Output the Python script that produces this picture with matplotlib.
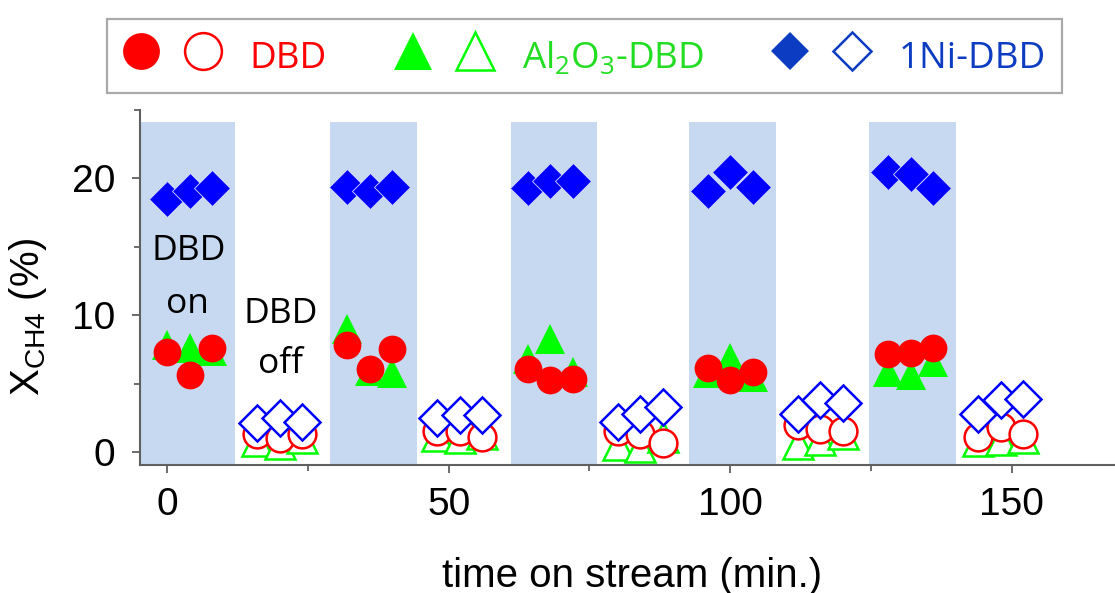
import matplotlib
matplotlib.use("Agg")
import matplotlib.pyplot as plt
from matplotlib.lines import Line2D
from matplotlib.legend_handler import HandlerTuple
from matplotlib.ticker import MultipleLocator

# sampling times (min), plasma on / plasma off
time_on = [0, 4, 8, 32, 36, 40, 64, 68, 72, 96, 100, 104, 128, 132, 136]
time_off = [16, 20, 24, 48, 52, 56, 80, 84, 88, 112, 116, 120, 144, 148, 152]

# CH4 conversion (%)
dbd_on = [7.3, 5.6, 7.6, 7.8, 6.1, 7.5, 6.1, 5.25, 5.3, 6.15, 5.25, 5.85, 7.2, 7.25, 7.6]
dbd_off = [1.3, 1.0, 1.3, 1.5, 1.5, 1.1, 1.5, 1.35, 0.65, 2.0, 1.7, 1.5, 1.1, 1.85, 1.35]
al_on = [7.8, 7.6, 7.4, 9.0, 5.9, 5.8, 6.8, 8.25, 5.85, 5.75, 6.9, 5.5, 5.85, 5.6, 6.6]
al_off = [0.8, 0.6, 1.0, 1.2, 1.0, 1.3, 0.5, 0.4, 1.1, 0.6, 0.9, 1.3, 0.8, 0.9, 1.0]
ni_on = [18.5, 19.05, 19.3, 19.35, 19.05, 19.4, 19.3, 19.8, 19.8, 19.05, 20.45, 19.35, 20.5, 20.3, 19.3]
ni_off = [2.1, 2.5, 2.2, 2.5, 2.7, 2.7, 2.2, 2.8, 3.3, 2.8, 3.8, 3.6, 2.8, 3.8, 3.9]

# periods with the discharge switched on (min)
on_windows = [(-5, 12.1), (28.9, 44.4), (61.1, 76.3), (92.7, 108.1), (124.6, 140.1)]
shade_top = 24.1

labels = ["DBD", r"Al$_\mathregular{2}$O$_\mathregular{3}$-DBD", "1Ni-DBD"]

RED = "#ff0000"
GREEN = "#00ff00"
BLUE = "#0000ff"
LEG_BLUE = "#0b3cc1"
SHADE = "#c6d9f1"
AXIS = "#606060"

plt.rcParams["font.family"] = ["Liberation Sans", "DejaVu Sans"]
plt.rcParams["mathtext.default"] = "regular"

fig = plt.figure(figsize=(11.15, 5.93), dpi=100)
ax = fig.add_axes([140 / 1115, 1 - 465 / 593, 975 / 1115, 355 / 593])
ax.set_xlim(-4.8, 168.3)
ax.set_ylim(-0.95, 25)

y0, y1 = ax.get_ylim()
for a, b in on_windows:
    ax.axvspan(a, b, ymin=0, ymax=(shade_top - y0) / (y1 - y0),
               color=SHADE, lw=0, zorder=0)

# open symbols: discharge off
ax.plot(time_off, al_off, ls="none", marker="^", ms=21, mfc="white",
        mec=GREEN, mew=1.8, zorder=2)
ax.plot(time_off, dbd_off, ls="none", marker="o", ms=20, mfc="white",
        mec=RED, mew=1.8, zorder=3)
ax.plot(time_off, ni_off, ls="none", marker="D", ms=18.5, mfc="white",
        mec=BLUE, mew=1.8, zorder=4)

# filled symbols: discharge on
ax.plot(time_on, al_on, ls="none", marker="^", ms=21, mfc=GREEN,
        mec=GREEN, mew=0, zorder=2)
ax.plot(time_on, dbd_on, ls="none", marker="o", ms=20, mfc=RED,
        mec=RED, mew=0, zorder=3)
ax.plot(time_on, ni_on, ls="none", marker="D", ms=18.5, mfc=BLUE,
        mec="#d8dcff", mew=0.6, zorder=4)

txt = dict(family=["Open Sans", "DejaVu Sans"], fontsize=25.5, ha="center",
           va="baseline", color="black", zorder=5)
ax.text(3.8, 14.0, "DBD", **txt)
ax.text(3.6, 10.15, "on", **txt)
ax.text(20.1, 9.4, "DBD", **txt)
ax.text(20.1, 5.8, "off", **txt)

for side in ("top", "right"):
    ax.spines[side].set_visible(False)
for side in ("left", "bottom"):
    ax.spines[side].set_color(AXIS)
    ax.spines[side].set_linewidth(1.5)

ax.xaxis.set_major_locator(MultipleLocator(50))
ax.xaxis.set_minor_locator(MultipleLocator(25))
ax.yaxis.set_major_locator(MultipleLocator(10))
ax.yaxis.set_minor_locator(MultipleLocator(5))
ax.tick_params(which="both", direction="out", color=AXIS, width=1.3)
ax.tick_params(which="major", length=6, labelsize=28)
ax.tick_params(which="minor", length=4)
ax.tick_params(axis="x", pad=10)
ax.tick_params(axis="y", pad=12)

ax.set_xlabel("time on stream (min.)", fontsize=29)
ax.xaxis.set_label_coords(0.5046, -0.3437)
ax.xaxis.label.set_verticalalignment("baseline")
ax.set_ylabel(r"X$_\mathregular{CH4}$ (%)", fontsize=29)
ax.yaxis.set_label_coords(-0.0933, 0.418)


def pair(marker, ms, color):
    full = Line2D([], [], ls="none", marker=marker, ms=ms, mfc=color, mec=color, mew=0)
    hollow = Line2D([], [], ls="none", marker=marker, ms=ms, mfc="white",
                    mec=color, mew=1.8)
    return (full, hollow)


handles = [pair("o", 26.5, RED), pair("^", 27, GREEN), pair("D", 19.5, LEG_BLUE)]
leg = fig.legend(handles, labels, ncol=3, loc="lower left", mode="expand",
                 bbox_to_anchor=(107 / 1115, 1 - 93 / 593, 955 / 1115, 83 / 593),
                 bbox_transform=fig.transFigure, borderaxespad=0,
                 handler_map={tuple: HandlerTuple(ndivide=None, pad=0.7)},
                 handlelength=2.66, handleheight=1.4, handletextpad=0.78,
                 columnspacing=1.55, borderpad=0.43, fancybox=False,
                 framealpha=1, edgecolor="#aaaaaa",
                 prop={"family": ["Open Sans", "DejaVu Sans"], "size": 26.5})
leg.get_frame().set_linewidth(1.6)
for t, c in zip(leg.get_texts(), [RED, "#22dd22", LEG_BLUE]):
    t.set_color(c)

fig.savefig("out.png", dpi=100)
